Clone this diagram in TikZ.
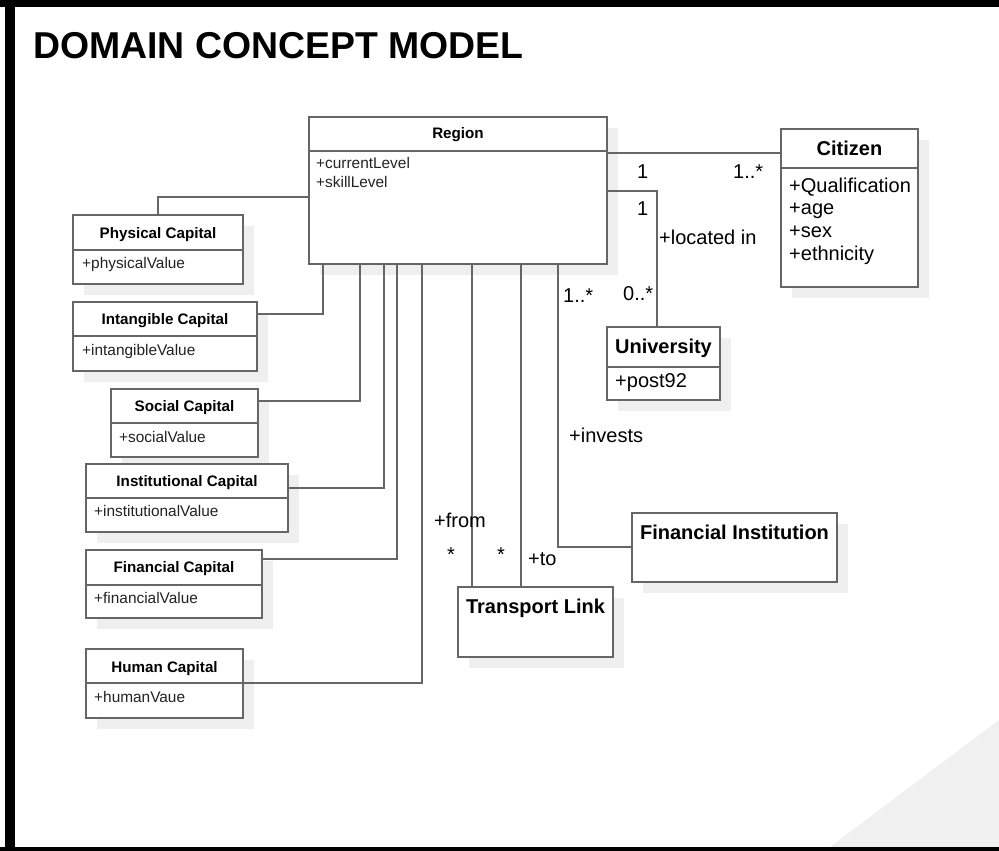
\documentclass[tikz,border=0pt]{standalone}
\usepackage{fontspec}
\setmainfont{Liberation Sans}
\usetikzlibrary{shadows}
\definecolor{linegray}{HTML}{666666}
\definecolor{shadowgray}{HTML}{EFEFEF}
\definecolor{cornergray}{HTML}{F0F0F0}
\definecolor{attrtext}{HTML}{222222}

% class box: name, left, top, right, bottom
\newcommand\umlbox[5]{%
  \node[classbox, minimum width={#4-#2}, minimum height={#5-#3}] (#1) at (#2,#3) {};}
% compartment divider of a class box at height y
\newcommand\umldiv[2]{%
  \draw[conn] (#1.west |- 0,#2) -- (#1.east |- 0,#2);}

\begin{document}
\begin{tikzpicture}[x=1pt,y=-1pt,
  classbox/.style={draw=linegray, line width=2pt, fill=white, inner sep=0pt,
    outer sep=0pt, anchor=north west,
    drop shadow={shadow xshift=11pt, shadow yshift=-11pt, fill=shadowgray, opacity=1}},
  conn/.style={draw=linegray, line width=2pt},
  head/.style={font=\bfseries\fontsize{15.2}{18}\selectfont, inner sep=0pt, anchor=base},
  attr/.style={font=\fontsize{15.4}{18}\selectfont, text=attrtext, inner sep=0pt, anchor=base west},
  bighead/.style={font=\bfseries\fontsize{20}{24}\selectfont, inner sep=0pt, anchor=base},
  bigattr/.style={font=\fontsize{20}{24}\selectfont, inner sep=0pt, anchor=base west},
  lbl/.style={font=\fontsize{20}{24}\selectfont, inner sep=0pt, anchor=base west},
]
\useasboundingbox (0,0) rectangle (999,851);
\fill[white] (0,0) rectangle (999,851);

% slide frame
\fill[cornergray] (830,847) -- (999,720) -- (999,847) -- cycle;
\fill[black] (0,0) rectangle (999,7);
\fill[black] (5,0) rectangle (15,851);
\fill[black] (0,847) rectangle (999,851);

\node[font=\bfseries\fontsize{37.4}{44}\selectfont, anchor=base west, inner sep=0pt] (title) at (33,59) {DOMAIN CONCEPT MODEL};

% classes
\umlbox{region}{309}{117}{607}{264}
\umldiv{region}{151}
\node[head] (regionH) at (458,138) {Region};
\node[attr] (regionA1) at (316,168) {+currentLevel};
\node[attr] (regionA2) at (316,187) {+skillLevel};

\umlbox{phys}{73}{215}{243}{284}
\umldiv{phys}{250}
\node[head] (physH) at (158,238) {Physical Capital};
\node[attr] (physA) at (82,268) {+physicalValue};

\umlbox{intan}{73}{302}{257}{371}
\umldiv{intan}{336}
\node[head] (intanH) at (165,324) {Intangible Capital};
\node[attr] (intanA) at (82,355) {+intangibleValue};

\umlbox{social}{111}{389}{258}{457}
\umldiv{social}{423}
\node[head] (socialH) at (184.5,411) {Social Capital};
\node[attr] (socialA) at (119,442) {+socialValue};

\umlbox{inst}{86}{464}{288}{532}
\umldiv{inst}{498}
\node[head] (instH) at (187,486) {Institutional Capital};
\node[attr] (instA) at (94,516) {+institutionalValue};

\umlbox{fincap}{86}{550}{262}{618}
\umldiv{fincap}{585}
\node[head] (fincapH) at (174,572) {Financial Capital};
\node[attr] (fincapA) at (94,603) {+financialValue};

\umlbox{human}{86}{649}{243}{718}
\umldiv{human}{683}
\node[head] (humanH) at (164.5,672) {Human Capital};
\node[attr] (humanA) at (94,702) {+humanVaue};

\umlbox{citizen}{781}{129}{918}{287}
\umldiv{citizen}{168}
\node[bighead] (citizenH) at (849.5,155) {Citizen};
\node[bigattr] (citizenA1) at (789,192) {+Qualification};
\node[bigattr] (citizenA2) at (789,214) {+age};
\node[bigattr] (citizenA3) at (789,237) {+sex};
\node[bigattr] (citizenA4) at (789,260) {+ethnicity};

\umlbox{univ}{607}{327}{720}{400}
\umldiv{univ}{367}
\node[bighead] (univH) at (663.5,353) {University};
\node[bigattr] (univA) at (615,387) {+post92};

\umlbox{transport}{458}{587}{613}{657}
\node[bighead] (transportH) at (535.5,613) {Transport Link};

\umlbox{fininst}{632}{513}{837}{582}
\node[bighead] (fininstH) at (734.5,539) {Financial Institution};

% associations
\draw[conn] (phys.north) |- ([yshift=-80pt]region.north west);
\draw[conn] ([xshift=14pt]region.south west) |- ([yshift=-12pt]intan.north east);
\draw[conn] ([xshift=51pt]region.south west) |- ([yshift=-12pt]social.north east);
\draw[conn] ([xshift=75pt]region.south west) |- ([yshift=-24pt]inst.north east);
\draw[conn] ([xshift=88pt]region.south west) |- ([yshift=-9pt]fincap.north east);
\draw[conn] ([xshift=113pt]region.south west) |- ([yshift=-34pt]human.north east);
\draw[conn] ([xshift=163pt]region.south west) coordinate (fromtop) -- (fromtop |- transport.north);
\draw[conn] ([xshift=212pt]region.south west) coordinate (totop) -- (totop |- transport.north);
\draw[conn] ([xshift=249pt]region.south west) |- ([yshift=-34pt]fininst.north west);
\draw[conn] ([yshift=-36pt]region.north east) coordinate (citA) -- (citA -| citizen.west);
\draw[conn] ([yshift=-74pt]region.north east) -| ([xshift=50pt]univ.north west);

% association labels
\node[lbl] (citM1) at (637,178) {1};
\node[lbl] (citMn) at (733,178) {1..*};
\node[lbl] (uniM1) at (637,215) {1};
\node[lbl] (uniRole) at (659,244) {+located in};
\node[lbl] (uniMn) at (623,300) {0..*};
\node[lbl] (invMn) at (563,302) {1..*};
\node[lbl] (invRole) at (569,442) {+invests};
\node[lbl] (fromRole) at (434,527) {+from};
\node[lbl] (fromMn) at (447,561) {*};
\node[lbl] (toMn) at (497,561) {*};
\node[lbl] (toRole) at (528,565) {+to};
\end{tikzpicture}
\end{document}
